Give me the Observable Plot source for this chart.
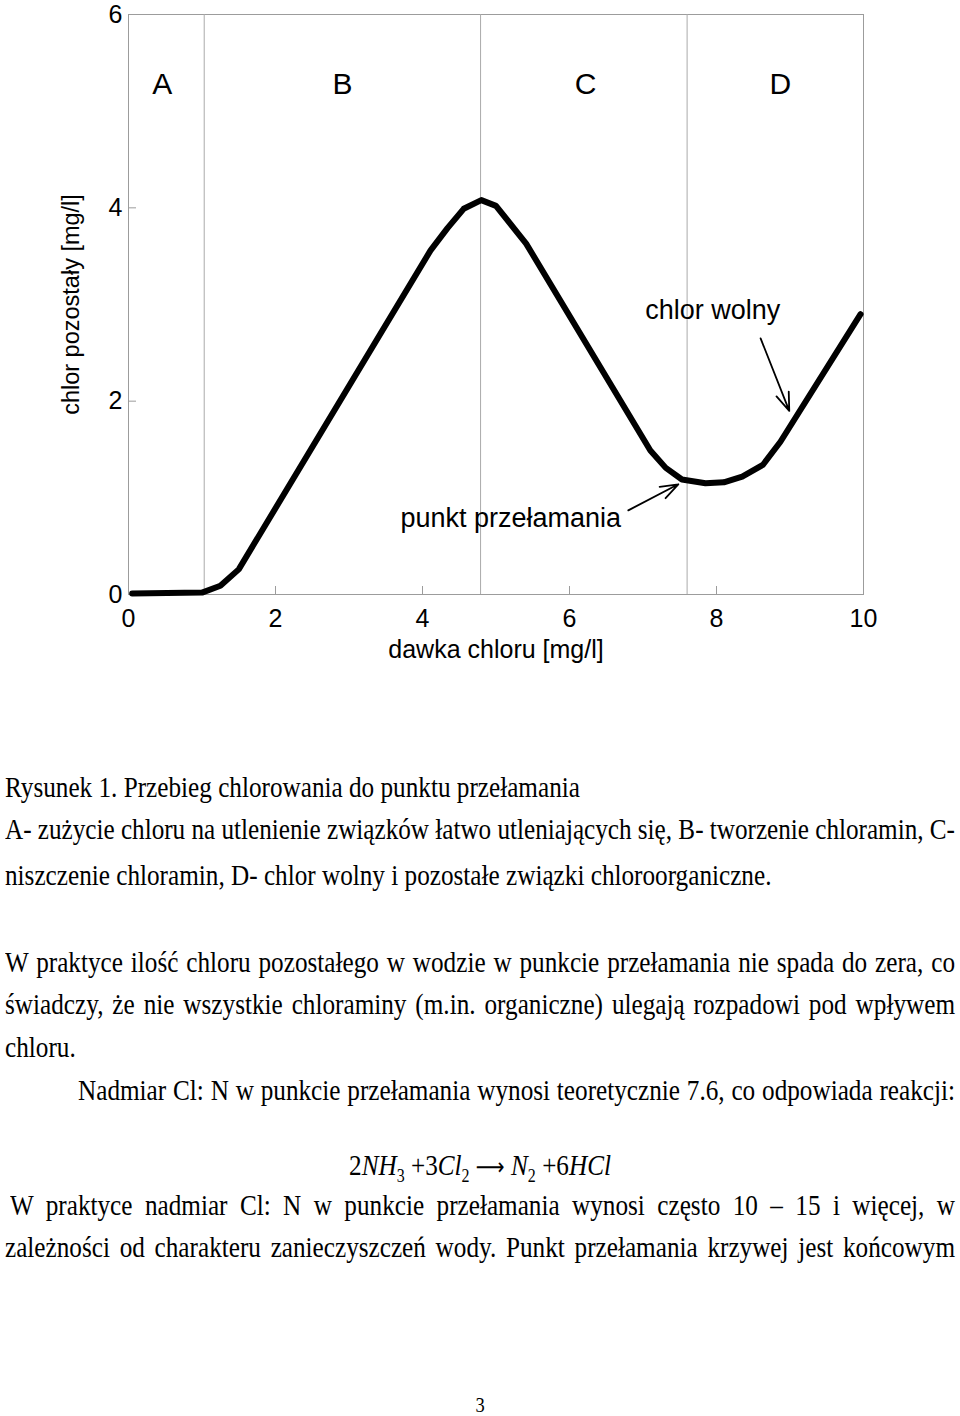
<!DOCTYPE html>
<html><head><meta charset="utf-8">
<script src="https://cdn.jsdelivr.net/npm/d3@7"></script>
<script src="https://cdn.jsdelivr.net/npm/@observablehq/plot@0.6"></script>
<style>
html,body{margin:0;padding:0;background:#fff;}
#page{position:relative;width:960px;height:1416px;overflow:hidden;background:#fff;}
#chart{position:absolute;left:0;top:0;}
.txt{position:absolute;transform-origin:0 0;font-family:"Liberation Serif","Times New Roman",serif;font-size:30px;line-height:30px;color:#000;white-space:nowrap;}
.j{text-align:justify;text-align-last:justify;}
.c{left:0;width:960px;text-align:center;transform-origin:480px 0;}
.eq i{font-style:italic;}
.eq sub{font-size:19px;vertical-align:-7px;line-height:0;}
.eq .arr{font-family:"DejaVu Sans",sans-serif;font-size:24px;}
</style></head>
<body><div id="page"><div id="chart"></div><div id="text"></div></div>
<script>
// ---- data ----
const doseX = [0.05, 1.0, 1.25, 1.5, 4.11, 4.34, 4.56, 4.8, 5.0, 5.41, 7.1, 7.31, 7.53, 7.85, 8.1, 8.35, 8.63, 8.87, 9.96];
const residualY = [0.01, 0.02, 0.09, 0.26, 3.56, 3.79, 3.99, 4.08, 4.02, 3.63, 1.49, 1.31, 1.19, 1.15, 1.16, 1.22, 1.34, 1.58, 2.9];
const zoneBounds = [1.03, 4.79, 7.6];
const zoneLabels = ["A", "B", "C", "D"];
const zoneLabelX = [0.46, 2.91, 6.22, 8.87];
const zoneLabelY = [5.28, 5.28, 5.28, 5.28];
const xTicks = [0, 2, 4, 6, 8, 10];
const yTicks = [0, 2, 4, 6];
const noteTexts = ["punkt przełamania", "chlor wolny"];
const noteX = [5.2, 7.95];
const noteY = [0.79, 2.94];
const arrowX1 = [6.8, 8.6];
const arrowY1 = [0.87, 2.65];
const arrowX2 = [7.48, 8.99];
const arrowY2 = [1.14, 1.9];
const xLabel = "dawka chloru [mg/l]";
const yLabel = "chlor pozostały [mg/l]";

const curve = doseX.map((x, i) => ({x, y: residualY[i]}));
const zones = zoneLabels.map((t, i) => ({t, x: zoneLabelX[i], y: zoneLabelY[i]}));
const notes = noteTexts.map((t, i) => ({t, x: noteX[i], y: noteY[i]}));
const arrows = arrowX1.map((x1, i) => ({x1, y1: arrowY1[i], x2: arrowX2[i], y2: arrowY2[i]}));

const W = 960, H = 680, ML = 128, MR = 97, MT = 14, MB = 86;
const frameW = W - ML - MR, frameH = H - MT - MB;
const gray = "#9c9c9c";

const chart = Plot.plot({
  width: W, height: H,
  marginLeft: ML, marginRight: MR, marginTop: MT, marginBottom: MB,
  x: {domain: [0, 10]},
  y: {domain: [0, 6]},
  style: {fontFamily: "'Liberation Sans', Arial, sans-serif", background: "#fff", color: "#000", overflow: "visible"},
  marks: [
    Plot.frame({stroke: gray}),
    Plot.ruleX(zoneBounds, {stroke: "#aaaaaa", strokeWidth: 1}),
    Plot.tickX(xTicks, {x: d => d, insetTop: frameH - 8, stroke: gray}),
    Plot.tickY(yTicks, {y: d => d, insetRight: frameW - 8, stroke: gray}),
    Plot.axisX(xTicks, {tickSize: 0, tickPadding: 15, fontSize: 25, label: null, fill: "#000", tickFormat: d => String(d)}),
    Plot.axisY(yTicks, {tickSize: 0, tickPadding: 6, fontSize: 25, label: null, fill: "#000", tickFormat: d => String(d)}),
    Plot.text([xLabel], {frameAnchor: "bottom", lineAnchor: "top", dy: 46, fontSize: 25, fill: "#000"}),
    Plot.text([yLabel], {frameAnchor: "left", textAnchor: "middle", rotate: -90, dx: -57, fontSize: 23.5, fill: "#000"}),
    Plot.text(zones, {x: "x", y: "y", text: "t", fontSize: 30, fill: "#000"}),
    Plot.text(notes, {x: "x", y: "y", text: "t", fontSize: 27, fill: "#000"}),
    Plot.arrow(arrows, {x1: "x1", y1: "y1", x2: "x2", y2: "y2", stroke: "#000", strokeWidth: 1.8, headLength: 16, headAngle: 40}),
    Plot.line(curve, {x: "x", y: "y", stroke: "#000", strokeWidth: 6, strokeLinejoin: "round"})
  ]
});
document.getElementById("chart").appendChild(chart);

// ---- caption / body text below the chart ----
const lines = [
  {b: 797, l: 5, r: null, s: "Rysunek 1. Przebieg chlorowania do punktu przełamania"},
  {b: 839, l: 5, r: 955, s: "A- zużycie chloru na utlenienie związków łatwo utleniających się, B- tworzenie chloramin, C-"},
  {b: 885, l: 5, r: null, s: "niszczenie chloramin, D- chlor wolny i pozostałe związki chloroorganiczne."},
  {b: 972, l: 5, r: 955, s: "W praktyce ilość chloru pozostałego w wodzie w punkcie przełamania nie spada do zera, co"},
  {b: 1014, l: 5, r: 955, s: "świadczy, że nie wszystkie chloraminy (m.in. organiczne) ulegają rozpadowi pod wpływem"},
  {b: 1057, l: 5, r: null, s: "chloru."},
  {b: 1100, l: 78, r: 955, s: "Nadmiar Cl: N w punkcie przełamania wynosi teoretycznie 7.6, co odpowiada reakcji:"},
  {b: 1215, l: 10, r: 955, s: "W praktyce nadmiar Cl: N w punkcie przełamania wynosi często 10 – 15 i więcej, w"},
  {b: 1257, l: 5, r: 955, s: "zależności od charakteru zanieczyszczeń wody. Punkt przełamania krzywej jest końcowym"}
];
const SX = 0.84;
const host = document.getElementById("text");
for (const ln of lines) {
  const d = document.createElement("div");
  d.className = "txt";
  d.style.left = ln.l + "px";
  d.style.top = (ln.b - 25) + "px";
  d.textContent = ln.s;
  host.appendChild(d);
  let sx = SX;
  if (ln.r) {
    const avail = ln.r - ln.l;
    const natural = d.getBoundingClientRect().width; // unscaled width
    if (natural * SX > avail) sx = avail / natural;
    d.className = "txt j";
    d.style.width = (avail / sx) + "px";
  }
  d.style.transform = "scaleX(" + sx + ")";
}
const eq = document.createElement("div");
eq.className = "txt c eq";
eq.style.top = (1175 - 25) + "px";
eq.style.transform = "scaleX(" + SX + ")";
eq.innerHTML = "2<i>NH</i><sub>3</sub> +3<i>Cl</i><sub>2</sub> <span class='arr'>⟶</span> <i>N</i><sub>2</sub> +6<i>HCl</i>";
host.appendChild(eq);
const pg = document.createElement("div");
pg.className = "txt c";
pg.style.fontSize = "22px";
pg.style.lineHeight = "20px";
pg.style.top = "1395px";
pg.style.transform = "scaleX(" + SX + ")";
pg.textContent = "3";
host.appendChild(pg);
</script>
</body></html>
